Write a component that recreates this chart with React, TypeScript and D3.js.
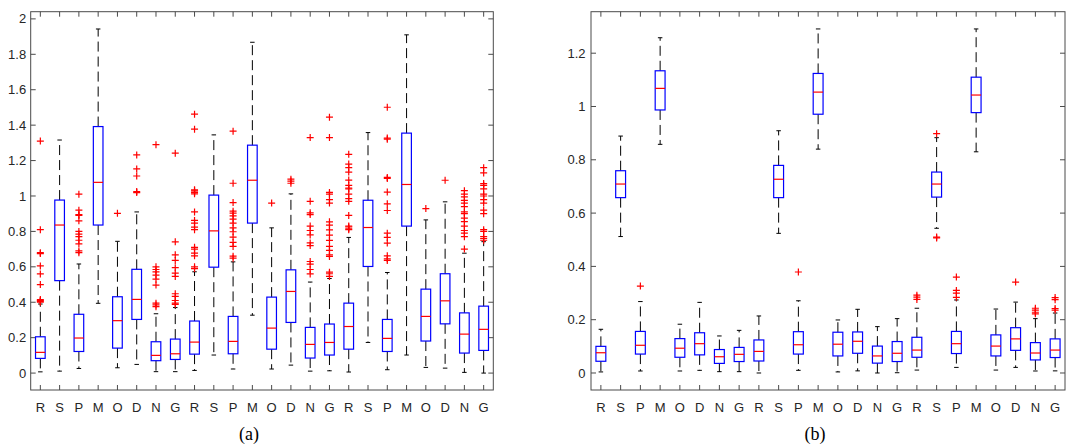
import React from "react";
import * as d3 from "d3";

// ---------- shared categories ----------
const categories = ["R","S","P","M","O","D","N","G","R","S","P","M","O","D","N","G","R","S","P","M","O","D","N","G"];

// ---------- panel (a) ----------
const aTicks = [0, 0.2, 0.4, 0.6, 0.8, 1, 1.2, 1.4, 1.6, 1.8, 2];
const aLow  = [0.007,0.011,0.026,0.394,0.03,0.049,0.008,0.008,0.015,0.102,0.023,0.327,0.023,0.045,0.011,0.013,0.006,0.173,0.019,0.102,0.032,0.028,0.004,0.0];
const aQ1   = [0.083,0.522,0.122,0.836,0.141,0.303,0.07,0.077,0.107,0.598,0.109,0.847,0.135,0.286,0.085,0.102,0.135,0.602,0.122,0.83,0.181,0.278,0.113,0.128];
const aMed  = [0.117,0.836,0.198,1.077,0.296,0.416,0.1,0.109,0.175,0.803,0.179,1.089,0.254,0.461,0.162,0.173,0.263,0.822,0.196,1.065,0.32,0.408,0.22,0.247];
const aQ3   = [0.205,0.977,0.332,1.392,0.431,0.586,0.177,0.192,0.294,1.005,0.32,1.287,0.429,0.583,0.258,0.277,0.395,0.976,0.303,1.355,0.474,0.561,0.34,0.378];
const aHigh = [0.39,1.316,0.616,1.943,0.744,0.91,0.335,0.37,0.572,1.345,0.628,1.868,0.82,1.012,0.514,0.534,0.766,1.358,0.568,1.91,0.865,0.967,0.677,0.742];
const aOut: number[][] = [
  [0.40,0.405,0.41,0.415,0.50,0.56,0.605,0.675,0.68,0.81,1.31],
  [],
  [0.68,0.69,0.73,0.75,0.77,0.785,0.80,0.86,0.89,0.895,0.92,1.01],
  [],
  [0.902],
  [1.019,1.025,1.113,1.153,1.232],
  [0.375,0.385,0.395,0.497,0.53,0.553,0.572,0.585,0.6,1.29],
  [0.388,0.395,0.41,0.433,0.448,0.546,0.565,0.595,0.636,0.668,0.741,1.242],
  [0.59,0.60,0.662,0.677,0.70,0.71,0.81,0.824,0.847,0.862,0.91,1.012,1.02,1.029,1.035,1.377,1.462],
  [],
  [0.649,0.66,0.715,0.738,0.768,0.798,0.82,0.847,0.869,0.888,0.903,0.914,0.963,1.072,1.366],
  [],
  [0.96],
  [1.072,1.084,1.095],
  [0.56,0.585,0.615,0.63,0.72,0.735,0.78,0.805,0.83,0.895,0.905,0.97,1.33],
  [0.546,0.561,0.57,0.659,0.668,0.693,0.715,0.749,0.779,0.809,0.835,0.854,0.96,0.979,1.01,1.02,1.33,1.445],
  [0.81,0.815,0.825,0.83,0.89,0.97,0.985,1.01,1.04,1.045,1.06,1.09,1.135,1.16,1.18,1.235],
  [],
  [0.636,0.645,0.662,0.734,0.766,0.79,0.918,0.956,1.022,1.099,1.105,1.321,1.327,1.501],
  [],
  [0.929],
  [1.089],
  [0.70,0.77,0.79,0.805,0.83,0.855,0.875,0.90,0.91,0.94,0.96,0.975,0.995,1.01,1.03],
  [0.75,0.76,0.77,0.80,0.81,0.90,0.92,0.96,0.98,1.0,1.01,1.04,1.06,1.07,1.13,1.16],
];

// ---------- panel (b) ----------
const bTicks = [0, 0.2, 0.4, 0.6, 0.8, 1, 1.2];
const bLow  = [0.004,0.512,0.0075,0.858,0.0075,0.01,0.005,0.005,0.0,0.524,0.01,0.84,0.004,0.008,0.0,0.001,0.011,0.543,0.021,0.83,0.011,0.021,0.0075,0.008];
const bQ1   = [0.044,0.658,0.071,0.987,0.059,0.068,0.036,0.043,0.045,0.658,0.071,0.971,0.064,0.074,0.037,0.043,0.059,0.66,0.073,0.977,0.064,0.085,0.049,0.058];
const bMed  = [0.076,0.709,0.104,1.068,0.093,0.11,0.061,0.07,0.081,0.727,0.106,1.054,0.108,0.119,0.064,0.074,0.086,0.709,0.11,1.043,0.101,0.128,0.075,0.086];
const bQ3   = [0.1,0.759,0.156,1.134,0.129,0.151,0.088,0.096,0.124,0.779,0.155,1.124,0.153,0.154,0.101,0.118,0.134,0.754,0.156,1.11,0.143,0.17,0.114,0.128];
const bHigh = [0.164,0.889,0.268,1.258,0.183,0.265,0.139,0.16,0.214,0.909,0.271,1.291,0.199,0.239,0.174,0.204,0.243,0.883,0.274,1.291,0.24,0.266,0.204,0.225];
const bOut: number[][] = [
  [],[],[0.326],[],[],[],[],[],
  [],[],[0.379],[],[],[],[],[],
  [0.276,0.285,0.292],[0.507,0.51,0.898],[0.284,0.30,0.31,0.36],[],[],[0.341],[0.222,0.228,0.236,0.243],[0.236,0.242,0.275,0.283],
];

const AXIS = "#4a4a4a";
const TEXT = "#262626";
const FONT = "'Liberation Sans', Arial, Helvetica, sans-serif";

type PanelProps = {
  left: number; right: number; top: number; bottom: number;
  yDomain: [number, number];
  ticks: number[];
  low: number[]; q1: number[]; med: number[]; q3: number[]; high: number[]; out: number[][];
  caption: string; captionX: number; labelGap: number;
};

function Panel(p: PanelProps) {
  const n = categories.length;
  const x = d3.scaleLinear().domain([0.5, n + 0.5]).range([p.left, p.right]);
  const y = d3.scaleLinear().domain(p.yDomain).range([p.bottom, p.top]);
  const step = x(2) - x(1);
  const bw = step * 0.5;
  const cap = 4.5;
  const tl = 5;
  const fmt = (v: number) => d3.format("~g")(v);
  return (
    <g>
      {/* axes frame */}
      <rect x={p.left} y={p.top} width={p.right - p.left} height={p.bottom - p.top} fill="none" stroke={AXIS} strokeWidth={1} />
      {p.ticks.map((t, i) => (
        <g key={"yt" + i}>
          <line x1={p.left} x2={p.left + tl} y1={y(t)} y2={y(t)} stroke={AXIS} />
          <line x1={p.right} x2={p.right - tl} y1={y(t)} y2={y(t)} stroke={AXIS} />
          <text x={p.left - p.labelGap} y={y(t)} dy="0.35em" textAnchor="end" fontFamily={FONT} fontSize={13} fill={TEXT}>{fmt(t)}</text>
        </g>
      ))}
      {categories.map((c, i) => (
        <g key={"xt" + i}>
          <line x1={x(i + 1)} x2={x(i + 1)} y1={p.bottom} y2={p.bottom - tl} stroke={AXIS} />
          <line x1={x(i + 1)} x2={x(i + 1)} y1={p.top} y2={p.top + tl} stroke={AXIS} />
          <text x={x(i + 1)} y={411.5} textAnchor="middle" fontFamily={FONT} fontSize={13} fill={TEXT}>{c}</text>
        </g>
      ))}
      {/* boxes */}
      {categories.map((c, i) => {
        const cx = x(i + 1);
        return (
          <g key={"b" + i}>
            <line x1={cx} x2={cx} y1={y(p.q3[i])} y2={y(p.high[i])} stroke="#000" strokeDasharray="10,5" strokeWidth={1} />
            <line x1={cx} x2={cx} y1={y(p.q1[i])} y2={y(p.low[i])} stroke="#000" strokeDasharray="10,5" strokeWidth={1} />
            <line x1={cx - cap / 2} x2={cx + cap / 2} y1={y(p.high[i])} y2={y(p.high[i])} stroke="#000" />
            <line x1={cx - cap / 2} x2={cx + cap / 2} y1={y(p.low[i])} y2={y(p.low[i])} stroke="#000" />
            <rect x={cx - bw / 2} y={y(p.q3[i])} width={bw} height={y(p.q1[i]) - y(p.q3[i])} fill="none" stroke="#0000ff" strokeWidth={1.2} />
            <line x1={cx - bw / 2} x2={cx + bw / 2} y1={y(p.med[i])} y2={y(p.med[i])} stroke="#ff0000" strokeWidth={1.2} />
            {p.out[i].map((v, j) => (
              <path key={j} d={`M${cx - 3.5},${y(v)}H${cx + 3.5}M${cx},${y(v) - 3.5}V${y(v) + 3.5}`} stroke="#ff0000" strokeWidth={1.2} fill="none" />
            ))}
          </g>
        );
      })}
      <text x={p.captionX} y={440} textAnchor="middle" fontFamily="'Liberation Serif', 'Times New Roman', serif" fontSize={18} fill="#000">{p.caption}</text>
    </g>
  );
}

export default function App() {
  return (
    <svg width={1068} height={444} style={{ position: "absolute", left: 0, top: 0, background: "#fff" }}>
      <rect x={0} y={0} width={1068} height={444} fill="#fff" />
      <Panel left={30.7} right={493.3} top={11.7} bottom={390} yDomain={[-0.0955, 2.0406]} ticks={aTicks}
        low={aLow} q1={aQ1} med={aMed} q3={aQ3} high={aHigh} out={aOut} caption="(a)" captionX={249} labelGap={4.5} />
      <Panel left={591} right={1065} top={11.7} bottom={390} yDomain={[-0.0638, 1.3557]} ticks={bTicks}
        low={bLow} q1={bQ1} med={bMed} q3={bQ3} high={bHigh} out={bOut} caption="(b)" captionX={815} labelGap={5.5} />
    </svg>
  );
}
